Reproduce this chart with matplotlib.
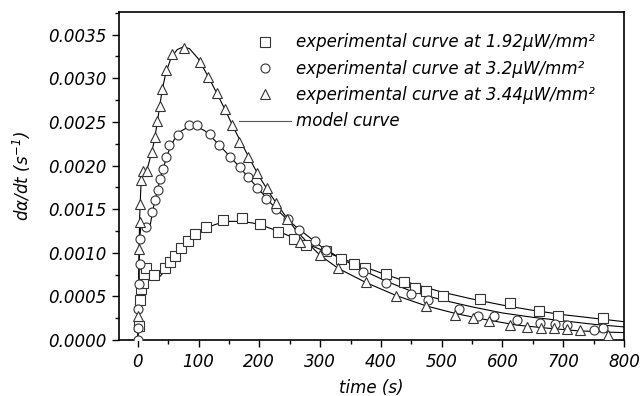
import matplotlib
matplotlib.use("Agg")
import matplotlib.pyplot as plt
from matplotlib.ticker import MultipleLocator, FormatStrFormatter

plt.rcParams['font.family'] = ['DejaVu Sans']
plt.rcParams['font.style'] = 'italic'
plt.rcParams['mathtext.fontset'] = 'custom'
plt.rcParams['mathtext.it'] = 'DejaVu Sans:italic'
plt.rcParams['mathtext.rm'] = 'DejaVu Sans:italic'
plt.rcParams['mathtext.default'] = 'it'

# experimental points
sq_x = [2, 4, 6, 8, 10, 14, 26, 44, 53, 61, 71, 82, 94, 112, 140, 171, 201, 231,
        257, 276, 309, 334, 355, 374, 409, 438, 456, 475, 502, 563, 612, 660, 692, 765]
sq_y = [0.000165, 0.00046, 0.00058, 0.00065, 0.00076, 0.00083, 0.00075, 0.00082,
        0.00089, 0.00096, 0.00105, 0.00114, 0.00121, 0.00129, 0.00137, 0.0014,
        0.00133, 0.00124, 0.00116, 0.00109, 0.00102, 0.00093, 0.00087, 0.00083,
        0.00076, 0.00067, 0.0006, 0.00056, 0.00051, 0.00047, 0.00042, 0.00033,
        0.00028, 0.00025]

ci_x = [0, 0.5, 1, 2, 3, 4, 13, 24, 29, 33, 37, 41, 46, 52, 66, 85, 98, 118, 134,
        151, 168, 182, 196, 211, 227, 247, 266, 291, 309, 370, 409, 449, 478, 529,
        560, 586, 624, 661, 686, 706, 750, 766]
ci_y = [0.0, 0.00014, 0.00035, 0.00064, 0.00087, 0.00116, 0.0013, 0.00147, 0.0016,
        0.00172, 0.00185, 0.00196, 0.0021, 0.00223, 0.00235, 0.00246, 0.00246,
        0.00236, 0.00223, 0.0021, 0.00198, 0.00187, 0.00174, 0.00162, 0.0015,
        0.00139, 0.00126, 0.00114, 0.00103, 0.00078, 0.00065, 0.00053, 0.00046,
        0.00035, 0.00027, 0.00027, 0.00023, 0.0002, 0.000185, 0.00017, 0.000115,
        0.000135]

tr_x = [1, 2, 3, 4, 5, 8, 15, 23, 29, 32, 36, 40, 47, 56, 76, 103, 116, 130, 143,
        155, 167, 182, 196, 212, 228, 246, 267, 300, 330, 375, 425, 475, 522, 551,
        578, 612, 640, 664, 684, 706, 727, 774]
tr_y = [0.00028, 0.00104, 0.00135, 0.00156, 0.00183, 0.00194, 0.00194, 0.00215,
        0.00233, 0.00251, 0.00268, 0.00288, 0.00309, 0.00328, 0.00335, 0.00319,
        0.00301, 0.00283, 0.00265, 0.00246, 0.00227, 0.0021, 0.00192, 0.00174,
        0.00157, 0.00139, 0.00112, 0.00098, 0.00083, 0.00066, 0.00051, 0.00039,
        0.00029, 0.00025, 0.00022, 0.00017, 0.00015, 0.000135, 0.000135, 0.000123,
        0.000115, 0.00006]

# model curves (traced)
m1_x = [0, 1, 2, 3, 5, 8, 14, 20, 27, 32, 38, 45, 55, 65, 80, 95, 110, 130, 150,
        170, 190, 210, 230, 250, 275, 300, 330, 360, 400, 450, 500, 550, 600, 650,
        700, 750, 800]
m1_y = [0.0, 0.0003, 0.00055, 0.00068, 0.00078, 0.00082, 0.00081, 0.00077, 0.00072,
        0.0007, 0.00074, 0.0008, 0.00091, 0.00101, 0.00113, 0.00122, 0.00128,
        0.00133, 0.00136, 0.00136, 0.00134, 0.0013, 0.00125, 0.00119, 0.00111,
        0.00104, 0.00095, 0.00087, 0.00077, 0.00065, 0.00055, 0.00047, 0.0004,
        0.00034, 0.00029, 0.00025, 0.00021]

m2_x = [0, 1, 2, 3, 5, 8, 12, 16, 20, 25, 30, 35, 40, 50, 60, 70, 85, 95, 110, 125,
        140, 160, 180, 200, 220, 240, 260, 280, 300, 330, 370, 410, 450, 500, 550,
        600, 650, 700, 750, 800]
m2_y = [0.0, 0.0004, 0.0008, 0.00115, 0.0013, 0.00132, 0.00128, 0.00126, 0.0013,
        0.0015, 0.00165, 0.0018, 0.00193, 0.00215, 0.0023, 0.00239, 0.00245,
        0.00245, 0.0024, 0.0023, 0.00219, 0.00204, 0.00188, 0.00172, 0.00156,
        0.00142, 0.0013, 0.00119, 0.00108, 0.00095, 0.0008, 0.00067, 0.00056,
        0.00046, 0.00038, 0.00031, 0.00026, 0.00022, 0.00018, 0.00015]

m3_x = [0, 1, 2, 3, 5, 8, 12, 17, 22, 27, 32, 36, 40, 46, 55, 65, 75, 85, 100, 115,
        130, 145, 160, 180, 200, 220, 240, 260, 280, 300, 330, 375, 425, 475, 525,
        575, 625, 675, 725, 775, 800]
m3_y = [0.0, 0.0005, 0.001, 0.0014, 0.00175, 0.0019, 0.00193, 0.002, 0.00213,
        0.00228, 0.00249, 0.00268, 0.00286, 0.00306, 0.00324, 0.00333, 0.00336,
        0.00334, 0.00322, 0.00303, 0.00283, 0.00262, 0.0024, 0.00213, 0.00187,
        0.00165, 0.00145, 0.00126, 0.00111, 0.00097, 0.00082, 0.00066, 0.00051,
        0.00039, 0.0003, 0.00023, 0.00017, 0.000135, 0.000105, 0.00009, 0.000085]

labels = ['experimental curve at 1.92\u03bcW/mm\u00b2',
          'experimental curve at 3.2\u03bcW/mm\u00b2',
          'experimental curve at 3.44\u03bcW/mm\u00b2',
          'model curve']

fig = plt.figure(figsize=(6.41, 3.96), dpi=100)
ax = fig.add_axes([0.1856, 0.1414, 0.7879, 0.8283])

mk = dict(ls='none', mfc='white', mec='#333333', mew=0.8, ms=6.5)
ax.plot(m1_x, m1_y, color='black', lw=0.8, zorder=2)
ax.plot(m2_x, m2_y, color='black', lw=0.8, zorder=2)
ax.plot(m3_x, m3_y, color='black', lw=0.8, zorder=2)
h1, = ax.plot(sq_x, sq_y, marker='s', label=labels[0], zorder=3, **mk)
h2, = ax.plot(ci_x, ci_y, marker='o', label=labels[1], zorder=3, **mk)
h3, = ax.plot(tr_x, tr_y, marker='^', label=labels[2], zorder=3, **mk)
h4, = ax.plot([], [], color='#555555', lw=0.8, label=labels[3])

ax.set_xlim(-31, 800)
ax.set_ylim(0, 0.00376)
ax.xaxis.set_major_locator(MultipleLocator(100))
ax.xaxis.set_minor_locator(MultipleLocator(50))
ax.yaxis.set_major_locator(MultipleLocator(0.0005))
ax.yaxis.set_minor_locator(MultipleLocator(0.00025))
ax.yaxis.set_major_formatter(FormatStrFormatter('%.4f'))
ax.tick_params(which='both', direction='out', top=False, right=False, labelsize=12)
ax.tick_params(which='major', length=5, width=1, pad=4)
ax.tick_params(which='minor', length=3, width=1)
for s in ax.spines.values():
    s.set_linewidth(1.2)

ax.set_xlabel('time (s)', fontsize=12, labelpad=6)
ax.set_ylabel(r'$d\alpha/dt\ (s^{-1})$', fontsize=12, labelpad=11)

ax.legend(handles=[h1, h2, h3, h4], loc='upper right', frameon=False,
          fontsize=12, handlelength=3.1, handletextpad=0.3, labelspacing=0.5,
          borderaxespad=0.0, bbox_to_anchor=(0.955, 0.955))

fig.savefig('out.png', dpi=100)
